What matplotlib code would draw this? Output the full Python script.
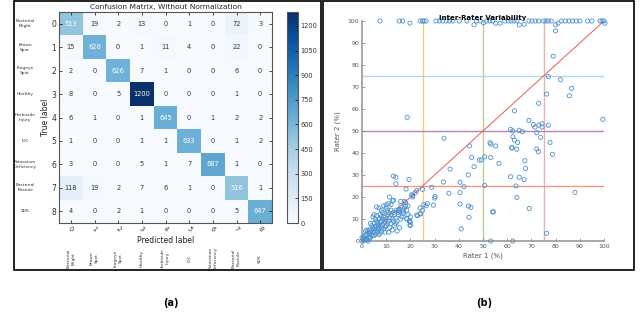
import matplotlib
matplotlib.use("Agg")
import matplotlib.pyplot as plt
from matplotlib.patches import Rectangle
import numpy as np

# ---------------- data ----------------
classes = ["Bacterial\nBlight", "Brown\nSpot", "Frogeye\nSpot", "Healthy",
           "Herbicide\nInjury", "IDC", "Potassium\nDeficiency",
           "Bacterial\nPustule", "SDS"]
row0 = [513, 19, 2, 13, 0, 1, 0, 72, 3]
row1 = [15, 626, 0, 1, 11, 4, 0, 22, 0]
row2 = [2, 0, 626, 7, 1, 0, 0, 6, 0]
row3 = [8, 0, 5, 1285, 0, 0, 0, 1, 0]
row4 = [6, 1, 0, 1, 645, 0, 1, 2, 2]
row5 = [1, 0, 0, 1, 1, 633, 0, 1, 2]
row6 = [3, 0, 0, 5, 1, 7, 687, 1, 0]
row7 = [118, 19, 2, 7, 6, 1, 0, 516, 1]
row8 = [4, 0, 2, 1, 0, 0, 0, 5, 647]
cbar_ticks = [0, 150, 300, 450, 600, 750, 900, 1050, 1200]

# rater scatter: points at the top (rater 2 ~ 100)
top_x = [7.4, 15.4, 16.8, 19.8, 24.0, 25.0, 25.6, 26.5, 30.6, 32.0, 33.4, 34.8,
         36.1, 37.5, 40.2, 43.3, 46.3, 47.4, 48.8, 50.2, 51.5, 52.8, 54.0, 55.2,
         57.0, 59.0, 60.4, 61.6, 62.8, 64.0, 65.0, 67.0, 69.0, 70.2, 71.6, 73.0,
         75.0, 76.0, 77.0, 78.2, 80.0, 81.0, 82.5, 84.0, 85.5, 87.0, 88.5, 90.0,
         93.2, 95.0, 98.3, 99.2, 100.0, 100.4]
top_y = [100, 100, 100, 99.0, 100, 100, 100, 100, 100, 100, 100, 100,
         100, 100, 100, 100, 98.3, 100, 100, 99.2, 100, 100, 100, 99.0,
         99.0, 100, 100, 100, 100, 100, 98.2, 98.5, 100, 100, 100, 100,
         100, 100, 100, 100, 98.3, 99.0, 100, 100, 100, 100, 100, 100,
         100, 100, 100, 100, 100, 99.0]

# mid / upper scattered points
mid_x = [18.7, 80.0, 79.0, 77.0, 82.0, 86.6, 85.7, 76.3, 73.0, 63.0, 99.5, 69.0,
         70.8, 71.5, 73.1, 74.4, 74.4, 77.0, 61.4, 62.3, 64.9, 66.3, 72.2, 62.3,
         63.0, 64.3, 73.8, 77.7, 33.9, 44.4, 52.9, 53.2, 55.2, 61.8, 63.9, 72.2,
         49.4, 50.7, 53.2, 56.6, 62.0, 61.4, 65.0, 67.0, 63.6, 64.0, 67.3, 67.6,
         54.3, 69.1, 72.9, 78.7, 88.0, 76.3, 53.2, 62.3, 50.7, 45.3, 48.5, 46.3,
         36.4, 43.9, 40.5, 33.7, 42.1, 40.5, 35.9, 30.2, 40.5, 44.0, 45.0, 44.2,
         41.0, 54.0]
mid_y = [56.2, 95.5, 84.0, 74.7, 73.3, 69.4, 66.0, 66.8, 62.6, 59.2, 55.3, 54.8,
         52.9, 51.8, 52.6, 53.3, 51.8, 52.6, 50.8, 50.0, 50.3, 49.7, 49.2, 47.4,
         45.9, 44.8, 47.1, 44.8, 46.7, 43.2, 44.7, 44.0, 43.2, 42.3, 41.7, 41.8,
         36.8, 38.3, 38.0, 35.3, 42.4, 29.2, 29.0, 27.9, 25.0, 19.8, 36.5, 33.0,
         13.3, 14.8, 40.6, 39.4, 22.1, 3.5, 0.0, 0.0, 25.3, 38.0, 36.8, 33.8,
         32.7, 30.0, 26.7, 26.8, 24.7, 22.0, 21.7, 20.2, 16.8, 15.9, 15.3, 10.8,
         5.5, 13.2]

# dense low cluster
low_x = [0, 0.5, 1, 1, 1.5, 2, 2, 2.5, 2.5, 3, 3, 3, 3.5, 3.5, 4, 4, 4, 4.5, 4.5,
         5, 5, 5, 5, 5.5, 5.5, 5.5, 6, 6, 6, 6, 6.5, 6.5, 6.5, 7, 7, 7, 7, 7.5,
         7.5, 7.5, 8, 8, 8, 8, 8.5, 8.5, 8.5, 9, 9, 9, 9.5, 9.5, 9.5, 10, 10, 10,
         10, 10.5, 10.5, 11, 11, 11, 11, 11.5, 11.5, 12, 12, 12, 12.5, 12.5, 13,
         13, 13, 13.5, 13.5, 14, 14, 14, 14.5, 14.5, 15, 15, 15.5, 15.5, 16, 16,
         16.5, 17, 17, 17.5, 17.5, 18, 18, 18.5, 18.5, 19, 19, 19.5, 20, 20, 20,
         20.5, 21, 22, 23, 24, 24, 25, 25.5, 26.5, 27, 29.5, 30, 28.8, 25, 18.2,
         19.4, 13, 14, 14, 12.7, 22.6, 20.9, 11.3, 15.3, 15, 19.7, 19.8, 18.5,
         24.2, 22.6, 9, 8, 6, 4.5, 3.5, 2, 1.5, 12, 16, 17, 10.5, 9.5, 7, 5, 3,
         2, 1, 0.5, 0]
low_y = [0, 1, 0.5, 2, 3, 1, 2.5, 0, 4, 2, 3.5, 5, 1.5, 4, 3, 5, 7, 2.5, 6,
         4, 5.5, 8, 12, 3, 6.5, 10, 5, 7, 9, 11.5, 4, 6, 8, 5.5, 7, 10, 15, 3.5,
         8.5, 12, 6, 9, 11, 4.5, 7, 10, 13, 8, 5.5, 11, 9, 12.5, 6.5, 7, 10, 15,
         16.5, 8, 12, 4, 9, 13, 17, 6, 10.5, 8, 12, 14, 5, 10, 18.5, 9, 13, 7,
         12, 8, 10.5, 14, 4.5, 9, 12, 14, 13.5, 6, 10, 16, 11, 14, 12.5, 15, 18,
         16, 17.5, 14, 10, 12, 16, 9, 7, 11, 8.5, 21, 20, 22, 11.5, 15, 12.5, 14,
         16.5, 16, 17, 16.3, 19.5, 24.4, 23.5, 23.6, 28, 29.5, 29, 26, 18.3, 22.9,
         20.6, 20, 14.4, 13, 9.2, 7.3, 10.3, 12.3, 11.8, 16, 14, 15.5, 11, 8, 5,
         4.5, 16.5, 18, 13.2, 14, 4, 3, 2.5, 1, 0.5, 1, 0, 1.5]

vlines_x = [25, 50, 75]
vlines_c = ["#f2cf80", "#b9cf93", "#e8b3b3"]
hlines_y = [75, 50, 25]
hlines_c = ["#a9d8f2", "#b383bd", "#ee9a88"]

# ---------------- figure ----------------
fig = plt.figure(figsize=(6.4, 3.3), dpi=100)
W, H = 640.0, 330.0

def fr(x0, y0, x1, y1):
    return [x0 / W, 1 - y1 / H, (x1 - x0) / W, (y1 - y0) / H]

# panel frames
for (x0, x1) in [(14, 321), (323, 634)]:
    fig.add_artist(Rectangle((x0 / W, 1 - 270 / H), (x1 - x0) / W, 269 / H,
                             transform=fig.transFigure, fill=False,
                             edgecolor="#111111", linewidth=1.3))

# ---- confusion matrix ----
cm = np.array([row0, row1, row2, row3, row4, row5, row6, row7, row8])
ax = fig.add_axes(fr(59, 12, 272, 223))
im = ax.imshow(cm, cmap="Blues", vmin=0, vmax=cm.max(), aspect="auto",
               interpolation="nearest")
n = len(classes)
for i in range(n):
    for j in range(n):
        v = cm[i, j]
        ax.text(j, i, "1200" if v == cm.max() else str(v), ha="center", va="center",
                fontsize=4.8, color="white" if v > 400 else "#333333")
ax.set_xticks(range(n))
ax.set_yticks(range(n))
ax.set_xticklabels([str(k) for k in range(n)], rotation=-45, fontsize=4.8,
                   ha="center", color="#333333")
ax.set_yticklabels([str(k) for k in range(n)], fontsize=5.5, color="#333333")
ax.tick_params(direction="in", length=2, width=0.5, top=True, right=True, pad=2)
for s in ax.spines.values():
    s.set_color("#555555")
    s.set_linewidth(0.8)
ax.set_title("Confusion Matrix, Without Normalization", fontsize=5.4, pad=2,
             color="#222222")
ax.set_ylabel("True label", fontsize=5.5, labelpad=1, color="#222222")
ax.set_xlabel("Predicted label", fontsize=5.5, labelpad=2, color="#222222")
for k, name in enumerate(classes):
    ax.text(-1.93, k, name, ha="center", va="center", fontsize=3.2,
            color="#333333", clip_on=False, linespacing=1.3)
    ax.text(k, 10.0, name, ha="center", va="center", fontsize=3.2, rotation=90,
            color="#333333", clip_on=False, linespacing=1.3)

cax = fig.add_axes(fr(287, 12, 298, 223))
cb = fig.colorbar(im, cax=cax, ticks=cbar_ticks)
cb.ax.tick_params(labelsize=4.8, direction="in", length=2, width=0.5, pad=2,
                  labelcolor="#333333")
cb.outline.set_edgecolor("#555555")
cb.outline.set_linewidth(0.8)

fig.text(170.6 / W, 1 - 303 / H, "(a)", ha="center", va="center",
         fontsize=7, fontweight="bold")
fig.text(484.5 / W, 1 - 303 / H, "(b)", ha="center", va="center",
         fontsize=7, fontweight="bold")

# ---- inter-rater scatter ----
ax2 = fig.add_axes(fr(362, 21, 604, 241))
for xv, c in zip(vlines_x, vlines_c):
    ax2.plot([xv, xv], [0, 100], color=c, linewidth=1.0, zorder=1)
for yv, c in zip(hlines_y, hlines_c):
    ax2.plot([0, 100], [yv, yv], color=c, linewidth=1.0, zorder=1)
ax2.plot([0, 100], [0, 100], color="#ee5a50", linewidth=0.7, zorder=2)
sx = top_x + mid_x + low_x
sy = top_y + mid_y + low_y
ax2.scatter(sx, sy, s=9, facecolors="none", edgecolors="#4c93d0",
            linewidths=0.6, zorder=3, clip_on=False)
ax2.set_xlim(0, 100)
ax2.set_ylim(0, 100)
ax2.set_xticks(range(0, 101, 10))
ax2.set_yticks(range(0, 101, 10))
ax2.tick_params(labelsize=4.5, labelcolor="#555555", color="#777777",
                direction="in", length=2, width=0.5, pad=2)
for side in ["top", "right"]:
    ax2.spines[side].set_visible(False)
for side in ["left", "bottom"]:
    ax2.spines[side].set_color("#9a9a9a")
    ax2.spines[side].set_linewidth(1.2)
ax2.set_title("Inter-Rater Variability", fontsize=5, fontweight="bold", pad=1)
ax2.set_xlabel("Rater 1 (%)", fontsize=5, color="#555555", labelpad=3)
ax2.set_ylabel("Rater 2 (%)", fontsize=5, color="#555555", labelpad=5)

fig.savefig("out.png", dpi=100)
